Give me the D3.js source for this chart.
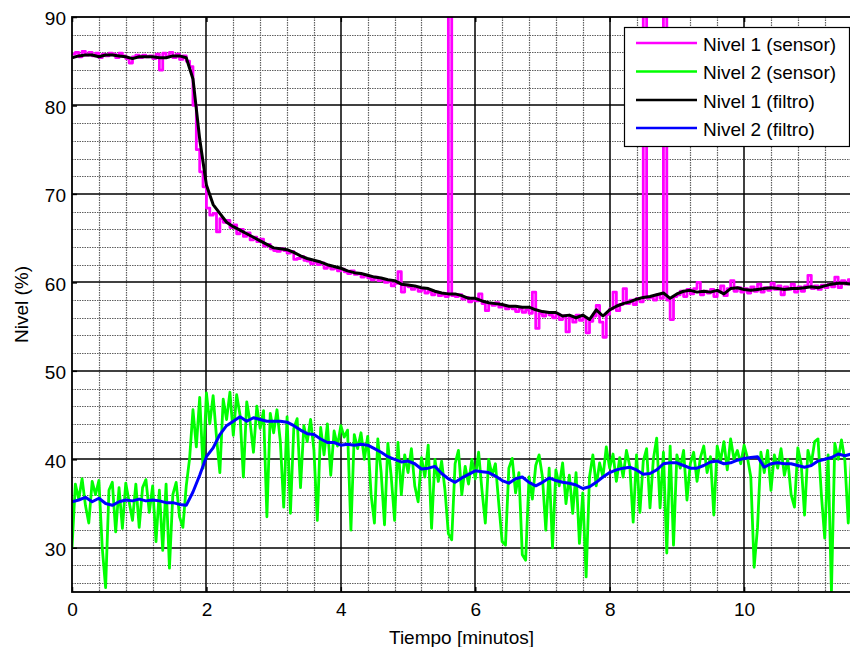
<!DOCTYPE html>
<html><head><meta charset="utf-8">
<script src="https://cdn.jsdelivr.net/npm/d3@7"></script>
<style>
body{margin:0;background:#fff}
svg{display:block}
text{font-family:Arial,"Liberation Sans",sans-serif}
</style>
</head><body>
<svg id="chart" width="850" height="647"></svg>
<script>
// sample periods (minutes)
const periodoSensor = 0.05;
const periodoFiltro = 0.1;

const nivel1Sensor = [
85.8,86.0,85.5,86.1,85.7,86.0,85.6,85.9,85.4,85.8,85.6,85.9,85.8,85.4,85.9,85.6,85.3,84.8,85.5,85.7,
85.4,85.7,85.5,85.6,85.3,85.8,84.0,85.9,85.5,86.0,85.4,85.8,85.2,85.6,85.0,84.4,80.0,75.0,72.5,70.8,
68.4,67.6,67.8,65.7,67.2,66.8,67.0,66.2,66.5,65.5,66.0,65.2,65.6,64.8,65.1,64.6,64.9,64.1,64.3,63.8,
63.6,63.5,63.8,63.6,63.3,63.5,62.6,62.7,62.9,62.5,62.4,62.1,62.3,62.0,62.2,61.6,61.8,61.5,61.6,61.3,
61.5,61.2,61.0,61.3,60.9,61.0,60.6,60.8,60.5,60.3,60.6,60.2,60.3,60.0,60.1,59.6,59.9,61.2,58.9,59.7,
59.5,59.2,59.4,59.0,59.2,58.8,59.0,58.6,58.9,58.5,58.6,58.4,150,58.5,58.4,58.6,58.1,58.3,57.8,58.0,
57.9,58.7,57.6,56.8,57.6,57.4,57.7,57.2,57.4,57.0,57.2,57.0,56.7,57.0,56.6,56.9,56.5,58.9,54.8,56.5,
56.2,56.6,56.3,56.0,56.4,55.8,56.2,54.4,56.0,55.5,56.3,55.7,56.0,54.3,55.6,56.2,57.4,55.5,53.8,56.4,
57.0,58.9,56.8,57.5,59.3,57.6,58.0,57.5,58.2,57.8,150,58.2,58.3,58.0,58.6,58.2,150,58.0,55.8,58.4,
58.6,59.0,58.4,59.2,58.7,59.3,60.0,58.6,59.0,58.8,59.2,58.4,59.1,59.6,58.5,59.3,60.2,59.0,59.4,58.9,
59.3,58.8,59.5,59.0,59.8,58.9,59.4,59.1,59.9,59.2,59.6,58.6,59.5,59.2,59.8,58.9,59.5,59.0,59.6,60.8,
59.3,59.6,59.2,59.7,59.4,59.8,59.5,60.6,59.4,60.2,59.8,60.3,59.9
];

const nivel2Sensor = [
30.0,37.2,35.5,37.8,34.8,32.8,37.5,36.0,37.6,30.0,25.5,36.5,37.4,31.8,36.8,32.2,37.3,35.2,33.1,37.2,
32.3,36.8,37.7,34.0,37.0,30.7,36.5,29.7,37.2,27.7,36.0,37.4,33.5,32.3,37.0,40.1,45.6,41.4,47.0,39.0,
47.5,44.0,47.2,42.5,38.5,46.8,44.5,47.6,42.7,47.3,45.0,38.0,46.5,44.2,40.8,46.0,43.5,45.5,33.5,45.2,
43.0,45.6,42.0,34.6,44.8,33.9,43.5,44.6,36.8,43.8,42.0,44.5,41.0,33.1,43.6,40.5,44.0,38.2,43.2,41.5,
43.8,42.5,43.3,32.0,42.8,41.2,43.0,40.0,42.6,36.0,32.8,42.3,38.5,32.6,41.8,38.0,33.1,41.9,36.0,40.5,
38.5,41.2,37.0,35.2,40.2,38.0,41.6,32.2,40.0,37.5,39.8,36.5,31.6,30.9,39.5,41.0,36.0,39.2,37.2,40.0,
37.8,40.8,36.5,32.8,40.0,38.2,39.5,35.0,30.7,30.3,39.0,40.1,36.2,38.5,29.2,28.6,38.0,35.5,39.3,40.5,
38.0,32.0,39.0,30.0,38.8,37.0,39.6,35.0,38.2,33.9,38.5,30.5,36.2,26.7,38.0,40.5,37.0,39.6,38.0,41.4,
39.0,40.6,37.5,40.2,38.0,41.0,39.2,32.9,40.5,34.0,39.8,41.2,34.5,40.0,42.4,34.5,40.8,29.4,41.5,30.3,
40.5,39.0,41.0,35.4,39.5,40.8,37.5,40.2,41.5,38.5,40.3,33.7,41.5,39.8,42.0,38.8,42.3,40.0,41.0,39.5,
41.6,40.2,38.0,27.8,32.3,40.8,38.5,41.0,36.5,40.5,39.0,41.2,38.2,40.0,36.0,34.6,41.3,39.5,33.7,41.0,
39.5,42.0,42.3,36.0,31.1,40.5,25.0,41.8,40.0,42.2,39.8,32.8,40.5
];

const nivel1Filtro = [
85.4,85.6,85.7,85.7,85.5,85.7,85.7,85.6,85.5,85.3,
85.5,85.5,85.5,85.4,85.4,85.6,85.6,85.4,83.0,76.2,
71.0,68.8,67.8,66.8,66.3,65.9,65.5,65.1,64.7,64.3,
63.9,63.8,63.7,63.4,63.0,62.7,62.5,62.3,62.0,61.8,
61.6,61.3,61.1,61.0,60.8,60.6,60.5,60.3,60.2,59.8,
59.7,59.6,59.4,59.3,59.0,58.8,58.7,58.7,58.5,58.2,
58.2,57.9,57.7,57.6,57.5,57.3,57.3,57.2,57.2,56.9,
56.7,56.6,56.6,56.2,56.3,56.0,56.3,55.8,56.9,56.2,
56.9,57.3,57.6,57.8,58.1,58.3,58.4,58.6,58.8,58.2,
58.7,59.0,59.1,58.9,59.0,58.9,59.1,58.7,59.3,59.4,
59.2,59.1,59.2,59.3,59.4,59.3,59.2,59.3,59.3,59.4,
59.5,59.4,59.6,59.8,59.9,59.9,59.8
];

const nivel2Filtro = [
35.2,35.4,35.7,35.2,35.6,35.0,34.8,35.2,35.4,35.3,
35.5,35.3,35.4,35.3,35.1,35.1,34.9,34.8,36.3,38.2,
40.3,41.3,42.8,43.8,44.3,44.8,44.3,44.7,44.5,44.3,
44.3,44.3,44.2,43.8,43.3,42.9,42.8,42.3,41.9,41.9,
41.6,41.7,41.6,41.7,41.6,41.2,40.8,40.3,40.0,39.7,
39.8,39.5,38.9,39.0,39.2,38.4,37.8,37.4,37.9,38.3,
38.7,38.6,38.5,38.1,37.6,37.3,37.8,38.0,37.4,37.0,
37.4,37.9,37.6,37.4,37.3,37.1,36.7,36.9,37.4,38.0,
38.5,38.8,39.0,39.1,38.8,38.3,38.4,38.8,39.5,39.6,
39.6,39.3,39.0,39.0,39.3,39.7,39.8,39.5,39.6,39.9,
40.1,40.2,40.3,39.1,39.5,39.6,39.5,39.5,39.3,39.1,
39.3,39.8,40.0,40.2,40.6,40.4,40.6
];

const xTicks = [0, 2, 4, 6, 8, 10];
const yTicks = [30, 40, 50, 60, 70, 80, 90];
const xDomain = [0, 11.71];
const yDomain = [25, 90];
const seriesNames = ["Nivel 1 (sensor)", "Nivel 2 (sensor)", "Nivel 1 (filtro)", "Nivel 2 (filtro)"];
const seriesColors = ["#ff00ff", "#00ff00", "#000000", "#0000ff"];
const xLabel = "Tiempo [minutos]";
const yLabel = "Nivel (%)";

const L = 72, T = 17, R = 859, B = 592;
const svg = d3.select("#chart");
svg.append("rect").attr("width", 850).attr("height", 647).attr("fill", "#fff");

const x = d3.scaleLinear().domain(xDomain).range([L, R]);
const y = d3.scaleLinear().domain(yDomain).range([B, T]);

// grid
const minorX = d3.range(0.4, xDomain[1], 0.4).filter(v => Math.abs(v / 2 - Math.round(v / 2)) > 1e-6);
const minorY = d3.range(26, 90, 2).filter(v => v % 10 !== 0);
const grid = svg.append("g");
grid.selectAll(".mx").data(minorX).join("line")
  .attr("x1", d => Math.round(x(d)) + 0.5).attr("x2", d => Math.round(x(d)) + 0.5)
  .attr("y1", T).attr("y2", B)
  .attr("stroke", "#606060").attr("stroke-width", 1.2).attr("stroke-dasharray", "1.5,1");
grid.selectAll(".my").data(minorY).join("line")
  .attr("y1", d => Math.round(y(d)) + 0.5).attr("y2", d => Math.round(y(d)) + 0.5)
  .attr("x1", L).attr("x2", R)
  .attr("stroke", "#606060").attr("stroke-width", 1.2).attr("stroke-dasharray", "1.5,1");
grid.selectAll(".Mx").data(xTicks.slice(1)).join("line")
  .attr("x1", d => Math.round(x(d))).attr("x2", d => Math.round(x(d)))
  .attr("y1", T).attr("y2", B)
  .attr("stroke", "#000").attr("stroke-width", 1.5);
grid.selectAll(".My").data(yTicks.slice(0, -1)).join("line")
  .attr("y1", d => Math.round(y(d))).attr("y2", d => Math.round(y(d)))
  .attr("x1", L).attr("x2", R)
  .attr("stroke", "#000").attr("stroke-width", 1.5);

// clip
svg.append("defs").append("clipPath").attr("id", "clip")
  .append("rect").attr("x", L).attr("y", T).attr("width", R - L).attr("height", B - T);

const plot = svg.append("g").attr("clip-path", "url(#clip)");
const lineStep = d3.line().x((d, i) => x(i * periodoSensor)).y(d => y(d)).curve(d3.curveStepAfter);
const lineS = d3.line().x((d, i) => x(i * periodoSensor)).y(d => y(d));
const lineF = d3.line().x((d, i) => x(i * periodoFiltro)).y(d => y(d));

const series = [
  {data: nivel1Sensor, gen: lineStep, color: seriesColors[0], w: 2.8},
  {data: nivel2Sensor, gen: lineS, color: seriesColors[1], w: 2.8},
  {data: nivel1Filtro, gen: lineF, color: seriesColors[2], w: 3},
  {data: nivel2Filtro, gen: lineF, color: seriesColors[3], w: 3}
];
series.forEach(s => {
  plot.append("path").attr("d", s.gen(s.data))
    .attr("fill", "none").attr("stroke", s.color).attr("stroke-width", s.w)
    .attr("stroke-linejoin", "round");
});

// axes
const fs = "19px";
const ax = svg.append("g").attr("transform", `translate(0,${B})`)
  .call(d3.axisBottom(x).tickValues(xTicks).tickSizeInner(-5).tickSizeOuter(0).tickPadding(11));
const ay = svg.append("g").attr("transform", `translate(${L},0)`)
  .call(d3.axisLeft(y).tickValues(yTicks).tickSizeInner(-5).tickSizeOuter(0).tickPadding(6));
const at = svg.append("g").attr("transform", `translate(0,${T})`)
  .call(d3.axisTop(x).tickValues(xTicks).tickSizeInner(-5).tickSizeOuter(0).tickFormat(""));
const ar = svg.append("g").attr("transform", `translate(${R},0)`)
  .call(d3.axisRight(y).tickValues(yTicks).tickSizeInner(-5).tickSizeOuter(0).tickFormat(""));
[ax, ay, at, ar].forEach(g => {
  g.select(".domain").remove();
  g.selectAll("line").attr("stroke", "#000").attr("stroke-width", 1.5);
  g.selectAll("text").attr("fill", "#000").style("font-size", fs)
   .style("font-family", "Arial, 'Liberation Sans', sans-serif");
});
ay.selectAll("text").attr("dy", "0.42em");

svg.append("rect").attr("x", L).attr("y", T).attr("width", R - L).attr("height", B - T)
  .attr("fill", "none").attr("stroke", "#000").attr("stroke-width", 1.8);

// labels
svg.append("text").attr("x", (L + R) / 2 - 4).attr("y", 637).attr("text-anchor", "middle")
  .attr("dominant-baseline", "central").style("font-size", fs).text(xLabel);
svg.append("text").attr("transform", `translate(21,${(T + B) / 2}) rotate(-90)`)
  .attr("text-anchor", "middle").attr("dominant-baseline", "central")
  .style("font-size", fs).text(yLabel);

// legend
const lg = svg.append("g");
lg.append("rect").attr("x", 624.5).attr("y", 27.5).attr("width", 225).attr("height", 119)
  .attr("fill", "#fff").attr("stroke", "#000").attr("stroke-width", 1.2);
const rowsY = [43, 71.5, 100, 128];
seriesNames.forEach((n, i) => {
  lg.append("line").attr("x1", 636).attr("x2", 697).attr("y1", rowsY[i]).attr("y2", rowsY[i])
    .attr("stroke", seriesColors[i]).attr("stroke-width", 2.6);
  lg.append("text").attr("x", 703).attr("y", rowsY[i] + 1).attr("dominant-baseline", "central")
    .style("font-size", fs).text(n);
});
</script>
</body></html>
